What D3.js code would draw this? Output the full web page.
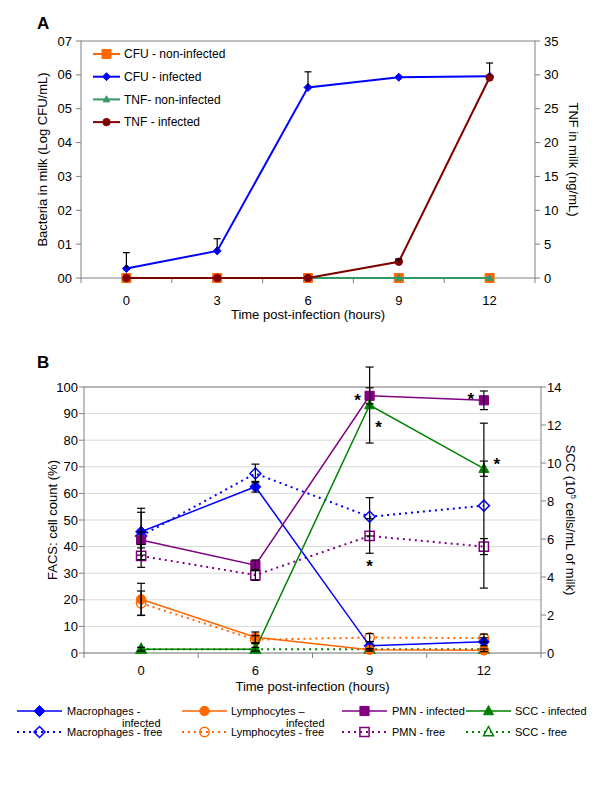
<!DOCTYPE html>
<html>
<head>
<meta charset="utf-8">
<script src="https://cdn.jsdelivr.net/npm/d3@7"></script>
<style>
  body { margin: 0; background: #fff; }
  svg { font-family: "Liberation Sans", Arial, sans-serif; }
  .tick-label { font-size: 13px; fill: #000; }
  .axis-title { font-size: 13px; fill: #000; }
  .panel-label { font-size: 17px; font-weight: bold; }
  .legend-a { font-size: 12px; }
  .legend-b { font-size: 11px; }
  .frame { fill: none; stroke: #808080; stroke-width: 1; }
  .tick { stroke: #808080; stroke-width: 1; }
  .grid { stroke: #d9d9d9; stroke-width: 1; }
  .err { stroke: #000; stroke-width: 1.2; fill: none; }
  .star { font-size: 17px; font-weight: bold; }
</style>
</head>
<body>
<script>
const width = 600,
  height = 800;

// ---- Panel A data ----
const hoursA = ["0", "3", "6", "9", "12"];
const cfuNonInfected = [0, 0, 0, 0, 0];
const cfuInfected = [0.28, 0.8, 5.63, 5.93, 5.96];
const cfuInfectedErr = [0.47, 0.36, 0.46, 0, 0.39];
const tnfNonInfected = [0, 0, 0, 0, 0];
const tnfInfected = [0, 0, 0, 2.4, 29.6];
const tnfInfectedErr = [0, 0, 0, 0.4, 0];
const bacteriaTicks = [0, 1, 2, 3, 4, 5, 6, 7];
const bacteriaTickLabels = ["00", "01", "02", "03", "04", "05", "06", "07"];
const tnfTicks = [0, 5, 10, 15, 20, 25, 30, 35];

// ---- Panel B data ----
const hoursB = ["0", "6", "9", "12"];
const macInfected = [45.6, 62.5, 2.7, 4.2];
const macInfectedErr = [8.8, 2, 1.5, 1.5];
const macFree = [44, 67.5, 51.2, 55.4];
const macFreeErr = [8.9, 3.5, 7.2, 31];
const lymInfected = [20.2, 5.9, 1.2, 1.0];
const lymInfectedErr = [6, 2, 0.5, 0.5];
const lymFree = [18.7, 5.0, 5.8, 5.6];
const lymFreeErr = [4.6, 1.5, 1.5, 1.5];
const pmnInfected = [42.5, 33, 96.7, 95];
const pmnInfectedErr = [3, 2, 3, 3.5];
const pmnFree = [36.5, 29.3, 44, 40];
const pmnFreeErr = [4.3, 2, 6.5, 3];
const sccInfected = [0.2, 0.2, 13.05, 9.7];
const sccInfectedErr = [0.1, 0.1, 2.0, 0.4];
const sccFree = [0.2, 0.2, 0.2, 0.2];
const sccFreeErr = [0, 0, 0, 0];
const facsTicks = [0, 10, 20, 30, 40, 50, 60, 70, 80, 90, 100];
const sccTicks = [0, 2, 4, 6, 8, 10, 12, 14];

const svg = d3
  .select("body")
  .append("svg")
  .attr("width", width)
  .attr("height", height);

// marker path for a given shape, centred on 0,0
function markerPath(shape, s) {
  if (shape === "diamond") return `M0,${-s}L${s},0L0,${s}L${-s},0Z`;
  if (shape === "square") return `M${-s},${-s}H${s}V${s}H${-s}Z`;
  if (shape === "triangle")
    return `M0,${-s * 1.1}L${s},${s * 0.75}L${-s},${s * 0.75}Z`;
  return d3.symbol().type(d3.symbolCircle).size(Math.PI * s * s)();
}

function drawMarker(g, shape, x, y, s, color, filled) {
  g.append("path")
    .attr("d", markerPath(shape, s))
    .attr("transform", `translate(${x},${y})`)
    .attr("fill", filled ? color : "none")
    .attr("stroke", color)
    .attr("stroke-width", filled ? 1 : 1.5);
}

function errorBar(g, x, y0, y1, cap, lower) {
  g.append("line").attr("class", "err")
    .attr("x1", x).attr("x2", x).attr("y1", y0).attr("y2", y1);
  g.append("line").attr("class", "err")
    .attr("x1", x - cap / 2).attr("x2", x + cap / 2).attr("y1", y1).attr("y2", y1);
  if (lower != null)
    g.append("line").attr("class", "err")
      .attr("x1", x - cap / 2).attr("x2", x + cap / 2).attr("y1", lower).attr("y2", lower);
}

// =================== Panel A ===================
const A = { left: 81, right: 535, top: 41, bottom: 278 };

const xA = d3.scaleBand().domain(hoursA).range([A.left, A.right]).padding(0);
const cxA = (d) => xA(d) + xA.bandwidth() / 2;
const yA = d3.scaleLinear().domain([0, 7]).range([A.bottom, A.top]);
const yA2 = d3.scaleLinear().domain([0, 35]).range([A.bottom, A.top]);

const gA = svg.append("g");

gA.append("text").attr("class", "panel-label").attr("x", 37).attr("y", 29).text("A");

gA.append("rect").attr("class", "frame")
  .attr("x", A.left).attr("y", A.top)
  .attr("width", A.right - A.left).attr("height", A.bottom - A.top);

// left ticks
bacteriaTicks.forEach((t, i) => {
  gA.append("line").attr("class", "tick")
    .attr("x1", A.left - 5).attr("x2", A.left).attr("y1", yA(t)).attr("y2", yA(t));
  gA.append("text").attr("class", "tick-label")
    .attr("x", A.left - 9).attr("y", yA(t)).attr("dy", "0.35em")
    .attr("text-anchor", "end").text(bacteriaTickLabels[i]);
});
// right ticks
tnfTicks.forEach((t) => {
  gA.append("line").attr("class", "tick")
    .attr("x1", A.right).attr("x2", A.right + 5).attr("y1", yA2(t)).attr("y2", yA2(t));
  gA.append("text").attr("class", "tick-label")
    .attr("x", A.right + 9).attr("y", yA2(t)).attr("dy", "0.35em").text(t);
});
// x ticks at category boundaries
xA.domain().concat([null]).forEach((d) => {
  const x = d == null ? A.right : xA(d);
  gA.append("line").attr("class", "tick")
    .attr("x1", x).attr("x2", x).attr("y1", A.bottom).attr("y2", A.bottom + 5);
});
hoursA.forEach((d) => {
  gA.append("text").attr("class", "tick-label")
    .attr("x", cxA(d)).attr("y", 304.5).attr("text-anchor", "middle").text(d);
});

gA.append("text").attr("class", "axis-title")
  .attr("x", (A.left + A.right) / 2).attr("y", 318.5)
  .attr("text-anchor", "middle").text("Time post-infection (hours)");
gA.append("text").attr("class", "axis-title")
  .attr("transform", `translate(47,${(A.top + A.bottom) / 2}) rotate(-90)`)
  .attr("text-anchor", "middle").text("Bacteria in milk (Log CFU/mL)");
gA.append("text").attr("class", "axis-title")
  .attr("transform", `translate(569,${(A.top + A.bottom) / 2}) rotate(90)`)
  .attr("text-anchor", "middle").text("TNF in milk (ng/mL)");

const seriesA = [
  { name: "CFU - non-infected", values: cfuNonInfected, err: null, scale: yA, color: "#ff6600", shape: "square", s: 4.5 },
  { name: "TNF- non-infected", values: tnfNonInfected, err: null, scale: yA2, color: "#339966", shape: "triangle", s: 3.3 },
  { name: "CFU - infected", values: cfuInfected, err: cfuInfectedErr, scale: yA, color: "#0000ff", shape: "diamond", s: 4 },
  { name: "TNF - infected", values: tnfInfected, err: tnfInfectedErr, scale: yA2, color: "#800000", shape: "circle", s: 3.7 },
];

seriesA.forEach((s) => {
  const line = d3.line().x((d, i) => cxA(hoursA[i])).y((d) => s.scale(d));
  gA.append("path").attr("d", line(s.values))
    .attr("fill", "none").attr("stroke", s.color).attr("stroke-width", 2);
  s.values.forEach((v, i) => {
    drawMarker(gA, s.shape, cxA(hoursA[i]), s.scale(v), s.s, s.color, true);
  });
});

// plus-only error bars
seriesA.forEach((s) => {
  if (!s.err) return;
  s.values.forEach((v, i) => {
    if (!s.err[i]) return;
    errorBar(gA, cxA(hoursA[i]), s.scale(v), s.scale(v + s.err[i]), 7);
  });
});

// legend A
const legendOrderA = [0, 2, 1, 3];
legendOrderA.forEach((k, j) => {
  const s = seriesA[k];
  const y = 54 + j * 22.7;
  gA.append("line").attr("x1", 93).attr("x2", 120).attr("y1", y).attr("y2", y)
    .attr("stroke", s.color).attr("stroke-width", 2);
  drawMarker(gA, s.shape, 106.5, y, s.s, s.color, true);
  gA.append("text").attr("class", "legend-a")
    .attr("x", 124).attr("y", y).attr("dy", "0.35em").text(s.name);
});

// =================== Panel B ===================
const B = { left: 84, right: 541, top: 387, bottom: 653 };

const xB = d3.scaleBand().domain(hoursB).range([B.left, B.right]).padding(0);
const cxB = (d) => xB(d) + xB.bandwidth() / 2;
const yB = d3.scaleLinear().domain([0, 100]).range([B.bottom, B.top]);
const yB2 = d3.scaleLinear().domain([0, 14]).range([B.bottom, B.top]);

const gB = svg.append("g");

gB.append("text").attr("class", "panel-label").attr("x", 37).attr("y", 368).text("B");

// gridlines
facsTicks.forEach((t) => {
  gB.append("line").attr("class", "grid")
    .attr("x1", B.left).attr("x2", B.right).attr("y1", yB(t)).attr("y2", yB(t));
});

gB.append("rect").attr("class", "frame")
  .attr("x", B.left).attr("y", B.top)
  .attr("width", B.right - B.left).attr("height", B.bottom - B.top);

facsTicks.forEach((t) => {
  gB.append("line").attr("class", "tick")
    .attr("x1", B.left - 5).attr("x2", B.left).attr("y1", yB(t)).attr("y2", yB(t));
  gB.append("text").attr("class", "tick-label")
    .attr("x", B.left - 6).attr("y", yB(t)).attr("dy", "0.35em")
    .attr("text-anchor", "end").text(t);
});
sccTicks.forEach((t) => {
  gB.append("line").attr("class", "tick")
    .attr("x1", B.right).attr("x2", B.right + 5).attr("y1", yB2(t)).attr("y2", yB2(t));
  gB.append("text").attr("class", "tick-label")
    .attr("x", B.right + 6).attr("y", yB2(t)).attr("dy", "0.35em").text(t);
});
xB.domain().concat([null]).forEach((d) => {
  const x = d == null ? B.right : xB(d);
  gB.append("line").attr("class", "tick")
    .attr("x1", x).attr("x2", x).attr("y1", B.bottom).attr("y2", B.bottom + 5);
});
hoursB.forEach((d) => {
  gB.append("text").attr("class", "tick-label")
    .attr("x", cxB(d)).attr("y", 675).attr("text-anchor", "middle").text(d);
});

gB.append("text").attr("class", "axis-title")
  .attr("x", (B.left + B.right) / 2).attr("y", 691)
  .attr("text-anchor", "middle").text("Time post-infection (hours)");
gB.append("text").attr("class", "axis-title")
  .attr("transform", `translate(57,${(B.top + B.bottom) / 2}) rotate(-90)`)
  .attr("text-anchor", "middle").text("FACS: cell count (%)");
const sccTitle = gB.append("text").attr("class", "axis-title")
  .attr("transform", `translate(566,${(B.top + B.bottom) / 2}) rotate(90)`)
  .attr("text-anchor", "middle");
sccTitle.append("tspan").text("SCC (10");
sccTitle.append("tspan").attr("dy", -5).style("font-size", "8px").text("5");
sccTitle.append("tspan").attr("dy", 5).text(" cells/mL of milk)");

const blue = "#0000ff", orange = "#ff6600", purple = "#800080", green = "#008000";

const seriesB = [
  { name: "SCC - free", values: sccFree, err: sccFreeErr, scale: yB2, color: green, shape: "triangle", filled: false },
  { name: "PMN - free", values: pmnFree, err: pmnFreeErr, scale: yB, color: purple, shape: "square", filled: false },
  { name: "Lymphocytes - free", values: lymFree, err: lymFreeErr, scale: yB, color: orange, shape: "circle", filled: false },
  { name: "Macrophages - free", values: macFree, err: macFreeErr, scale: yB, color: blue, shape: "diamond", filled: false },
  { name: ["Macrophages -", "infected"], values: macInfected, err: macInfectedErr, scale: yB, color: blue, shape: "diamond", filled: true },
  { name: ["Lymphocytes \u2013", "infected"], values: lymInfected, err: lymInfectedErr, scale: yB, color: orange, shape: "circle", filled: true },
  { name: "PMN - infected", values: pmnInfected, err: pmnInfectedErr, scale: yB, color: purple, shape: "square", filled: true },
  { name: "SCC - infected", values: sccInfected, err: sccInfectedErr, scale: yB2, color: green, shape: "triangle", filled: true },
];
const markerSize = { diamond: 5.5, circle: 4.7, square: 4.6, triangle: 5 };

seriesB.forEach((s) => {
  const line = d3.line().x((d, i) => cxB(hoursB[i])).y((d) => s.scale(d));
  gB.append("path").attr("d", line(s.values))
    .attr("fill", "none").attr("stroke", s.color)
    .attr("stroke-width", s.filled ? 1.5 : 2)
    .attr("stroke-dasharray", s.filled ? null : "2,4");
  s.values.forEach((v, i) => {
    drawMarker(gB, s.shape, cxB(hoursB[i]), s.scale(v), markerSize[s.shape], s.color, s.filled);
  });
});

// error bars on top
seriesB.forEach((s) => {
  s.values.forEach((v, i) => {
    const e = s.err[i];
    if (!e) return;
    const x = cxB(hoursB[i]);
    errorBar(gB, x, s.scale(v - e), s.scale(v + e), 8, s.scale(v - e));
  });
});

// significance marks: [hour, value, axis, dx, dy]
const stars = [
  ["9", pmnInfected[2], yB, -12, 0],
  ["9", sccInfected[2], yB2, 9, 18],
  ["12", pmnInfected[3], yB, -13, -5],
  ["12", sccInfected[3], yB2, 13, -9],
  ["9", pmnFree[2], yB, 0, 26],
];
stars.forEach(([h, v, sc, dx, dy]) => {
  gB.append("text").attr("class", "star")
    .attr("x", cxB(h) + dx).attr("y", sc(v) + dy + 10)
    .attr("text-anchor", "middle").text("*");
});

// legend B
const legendCols = [
  { line: 17, text: 67 },
  { line: 182, text: 231 },
  { line: 342, text: 392 },
  { line: 466, text: 515 },
];
const legendRowY = [711, 732];
const legendOrderB = [
  [4, 5, 6, 7],
  [3, 2, 1, 0],
];
legendOrderB.forEach((row, r) => {
  row.forEach((k, c) => {
    const s = seriesB[k];
    const col = legendCols[c];
    const y = legendRowY[r];
    gB.append("line").attr("x1", col.line).attr("x2", col.line + 45)
      .attr("y1", y).attr("y2", y)
      .attr("stroke", s.color).attr("stroke-width", s.filled ? 1.5 : 2)
      .attr("stroke-dasharray", s.filled ? null : "2,4");
    drawMarker(gB, s.shape, col.line + 22.5, y, markerSize[s.shape], s.color, s.filled);
    const label = Array.isArray(s.name) ? s.name : [s.name];
    gB.append("text").attr("class", "legend-b")
      .attr("x", col.text).attr("y", y).attr("dy", "0.35em").text(label[0]);
    if (label[1])
      gB.append("text").attr("class", "legend-b")
        .attr("x", col.text + 55).attr("y", y + 12.5).attr("dy", "0.35em").text(label[1]);
  });
});
</script>
</body>
</html>
